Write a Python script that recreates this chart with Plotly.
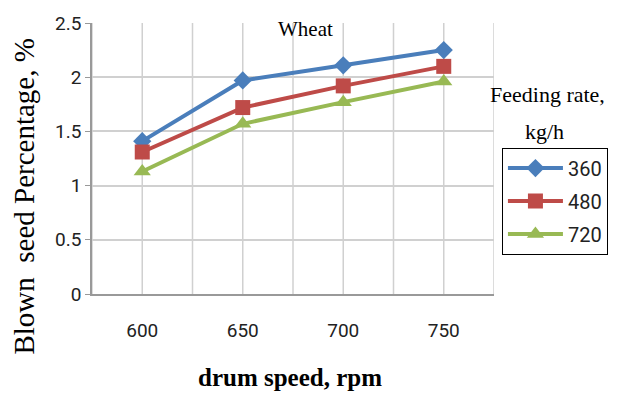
import plotly.graph_objects as go

# Drum speed (rpm) and blown-seed percentage for each feeding rate (kg/h)
drum_speed = [600, 650, 700, 750]
rate_360 = [1.41, 1.97, 2.11, 2.25]
rate_480 = [1.31, 1.72, 1.92, 2.10]
rate_720 = [1.13, 1.57, 1.77, 1.96]
series_names = ["360", "480", "720"]
y_ticks = [0, 0.5, 1, 1.5, 2, 2.5]
y_tick_text = ["0", "0.5", "1", "1.5", "2", "2.5"]

colors = ["#4A7EBB", "#BE4B48", "#98B954"]
symbols = ["diamond", "square", "triangle-up"]
sizes = [14, 15, 15]

fig = go.Figure()
for name, vals, c, s, sz in zip(series_names, [rate_360, rate_480, rate_720], colors, symbols, sizes):
    fig.add_trace(go.Scatter(
        x=drum_speed, y=vals, name=name, mode="lines+markers",
        legendgroup=name,
        line=dict(color=c, width=4),
        marker=dict(symbol=s, size=sz, color=c),
    ))

serif = "Liberation Serif, Times New Roman, serif"
sans = "Liberation Sans Narrow, Roboto, Arial, sans-serif"

fig.update_layout(
    width=620, height=394,
    margin=dict(l=92, r=123, t=20, b=100),
    paper_bgcolor="white", plot_bgcolor="white",
    showlegend=True,
    legend=dict(
        x=(505 - 92) / 405, y=(294 - 146) / 274, xanchor="left", yanchor="top",
        bordercolor="black", borderwidth=1,
        font=dict(family=sans, size=20, color="#222"),
        tracegroupgap=4, itemwidth=55,
    ),
    xaxis=dict(
        range=[575, 775], tickmode="array", tickvals=drum_speed,
        ticktext=[str(v) for v in drum_speed],
        showgrid=False, showline=True, linecolor="#999", linewidth=1.5,
        ticks="", ticklabelstandoff=18,
        tickfont=dict(family=sans, size=19, color="#222"),
        zeroline=False,
    ),
    yaxis=dict(
        range=[0, 2.5], tickmode="array", tickvals=y_ticks, ticktext=y_tick_text,
        showgrid=True, gridcolor="#D0D0D0", gridwidth=1.5,
        showline=True, linecolor="#999", linewidth=1.5,
        ticks="outside", ticklen=5, tickcolor="#999",
        tickfont=dict(family=sans, size=19, color="#222"),
        zeroline=False,
    ),
)

# vertical grid lines every 25 rpm across the plot area
for xv in range(575, 800, 25):
    fig.add_shape(type="line", xref="x", yref="y", x0=xv, x1=xv, y0=0, y1=2.5,
                  line=dict(color="#D0D0D0", width=1.5), layer="below")


def px_note(text, cx, cy, size, angle=0):
    # place a text centred on a pixel position of the 620x394 canvas
    fig.add_annotation(text=text, xref="paper", yref="paper",
                       x=(cx - 92) / 405, y=(294 - cy) / 274,
                       xanchor="center", yanchor="middle", textangle=angle,
                       showarrow=False,
                       font=dict(family=serif, size=size, color="black"))


px_note("Wheat", 307, 26, 21)
px_note("Feeding rate,", 551, 92, 22)
px_note("kg/h", 548, 130, 22)
px_note("Blown  seed Percentage, %", 24, 196, 29, angle=-90)
px_note("<b>drum speed, rpm</b>", 291, 378, 25)

fig.write_html("out.html")
